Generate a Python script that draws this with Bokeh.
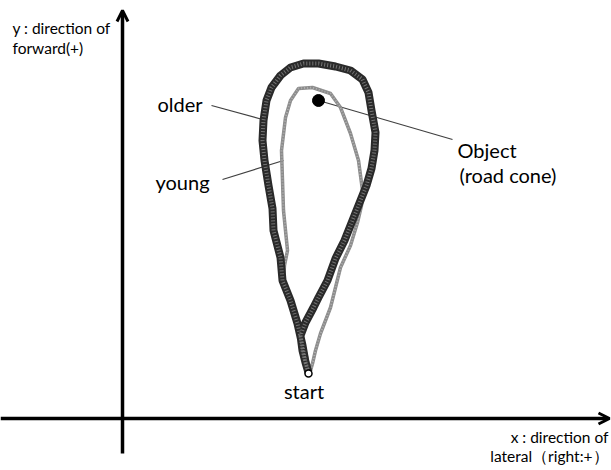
from bokeh.plotting import figure
from bokeh.models import Range1d, Arrow, OpenHead
from bokeh.core.properties import value
from bokeh.embed import file_html
from bokeh.resources import INLINE

# Trajectories (lateral x, forward y), origin at the axes crossing
older_x = [186, 183, 180, 175, 168, 160, 158, 151, 150, 146,
           142, 140, 141, 144, 149, 158, 168, 181, 196, 213,
           228, 240, 246, 249, 253, 252, 249, 244, 238, 230,
           222, 213, 205, 196, 191, 183, 178, 180, 183, 186]
older_y = [46, 56, 73, 95, 118, 138, 161, 188, 210, 233,
           258, 278, 298, 318, 331, 343, 351, 355, 355, 352,
           348, 339, 326, 308, 286, 268, 250, 233, 218, 198,
           178, 160, 138, 121, 111, 96, 83, 68, 56, 46]

young_x = [188, 190, 193, 198, 208, 213, 218, 228, 235, 239,
           240, 236, 228, 218, 208, 190, 176, 168, 163, 159,
           160, 161, 163, 165, 162, 161, 167, 175, 180, 185, 188]
young_y = [48, 55, 68, 85, 111, 131, 151, 173, 196, 213,
           228, 258, 285, 311, 325, 331, 330, 318, 301, 268,
           238, 208, 188, 168, 153, 138, 118, 95, 78, 58, 48]

object_x = [196]
object_y = [318]
start_x = [186]
start_y = [45]

series_labels = ["older", "young"]
object_label = ["Object", "(road cone)"]
start_label = "start"
y_axis_label = ["y : direction of", "forward(+)"]
x_axis_label = ["x : direction of", "lateral（right:+）"]

FONT = value("Lato")

p = figure(width=611, height=470,
           x_range=Range1d(-122, 489), y_range=Range1d(-52, 418),
           output_backend="svg", toolbar_location=None, min_border=0,
           x_axis_location=None, y_axis_location=None)
p.grid.visible = False
p.outline_line_color = None
p.background_fill_color = "white"
p.border_fill_color = "white"

# axes as arrows
p.add_layout(Arrow(end=OpenHead(size=11, line_width=3, line_color="black"),
                   x_start=-122, y_start=0, x_end=487, y_end=0,
                   line_width=3.5, line_color="black"))
p.add_layout(Arrow(end=OpenHead(size=11, line_width=3, line_color="black"),
                   x_start=0, y_start=-35, x_end=0, y_end=408,
                   line_width=3.5, line_color="black"))

# leader lines
p.segment(x0=[89, 100, 196], y0=[313, 239, 318],
          x1=[140, 161, 330], y1=[299, 258, 279],
          line_color="#404040", line_width=1.2)

# young trajectory
p.line(young_x, young_y, line_color="#8c8c8c", line_width=3.5, line_join="round")
p.line(young_x, young_y, line_color="#c8c8c8", line_width=2, line_dash="1 2", line_alpha=0.6)

# older trajectory
p.line(older_x, older_y, line_color="#2a2a2a", line_width=8, line_join="round")
p.line(older_x, older_y, line_color="#b0b0b0", line_width=4, line_dash="1 2", line_alpha=0.55)

# object and start
p.scatter(object_x, object_y, size=12, fill_color="black", line_color="black")
p.scatter(start_x, start_y, size=7, fill_color="white", line_color="black", line_width=1.5)

# texts
p.text(x=[35, 33], y=[315, 237], text=series_labels, text_font=FONT,
       text_font_size="20px", text_color="black", text_baseline="alphabetic")
p.text(x=[335, 337], y=[269, 244], text=object_label, text_font=FONT,
       text_font_size="20px", text_color="black", text_baseline="alphabetic")
p.text(x=[181.5], y=[28], text=[start_label], text_font=FONT,
       text_font_size="20px", text_color="black", text_baseline="alphabetic",
       text_align="center")
p.text(x=[-110, -110], y=[391, 371], text=y_axis_label, text_font=FONT,
       text_font_size="15.5px", text_color="black", text_baseline="alphabetic")
p.text(x=[486, 486], y=[-18, -37], text=x_axis_label, text_font=FONT,
       text_font_size="15.5px", text_color="black", text_baseline="alphabetic",
       text_align="right")

open("out.html", "w").write(file_html(p, INLINE))
